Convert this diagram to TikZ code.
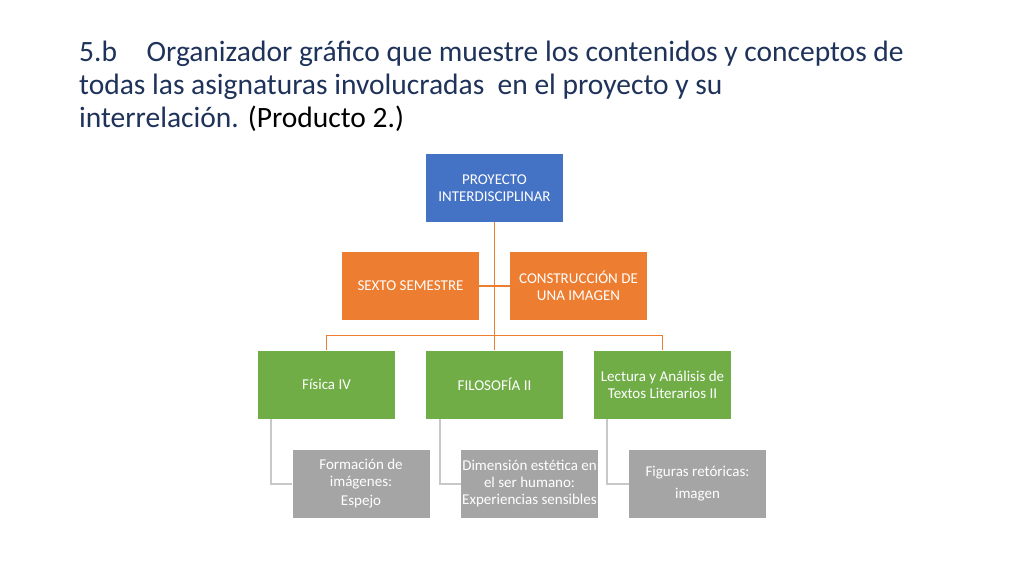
\documentclass[tikz,border=0pt]{standalone}
\usepackage{fontspec}
\setmainfont{Carlito}
\begin{document}
\begin{tikzpicture}[x=1pt,y=-1pt,
 bx/.style={minimum width=137pt,minimum height=68pt,align=center,text=white,inner sep=1pt,font=\fontsize{15}{17}\selectfont},
 blue/.style={bx,fill={rgb,255:red,68;green,114;blue,196}},
 org/.style={bx,fill={rgb,255:red,237;green,125;blue,49}},
 grn/.style={bx,fill={rgb,255:red,112;green,173;blue,71}},
 gry/.style={bx,fill={rgb,255:red,165;green,165;blue,165},font=\fontsize{15}{17}\selectfont},
 oline/.style={draw={rgb,255:red,237;green,125;blue,49},line width=1.2pt},
 gline/.style={draw={rgb,255:red,200;green,200;blue,200},line width=1.5pt}]
\useasboundingbox (0,0) rectangle (1024,576);
\fill[white] (0,0) rectangle (1024,576);
\node[anchor=west,align=left,font=\fontsize{29.5}{33}\selectfont,inner sep=0,text={rgb,255:red,30;green,50;blue,90}] (title) at (79,86)
 {5.b\quad Organizador gráfico que muestre los contenidos y conceptos de\\todas las asignaturas involucradas\ \ en el proyecto y su\\interrelación. \textcolor{black}{(Producto 2.)}};
\node[blue] (p) at (494.5,188) {PROYECTO\\INTERDISCIPLINAR};
\node[org] (s) at (410.5,286) {SEXTO SEMESTRE};
\node[org] (c) at (578.5,286) {CONSTRUCCIÓN DE\\UNA IMAGEN};
\node[grn] (f) at (326.5,384.5) {Física IV};
\node[grn] (fi) at (494.5,384.5) {FILOSOFÍA II};
\node[grn] (l) at (662.5,384.5) {Lectura y Análisis de\\Textos Literarios II};
\node[gry] (g1) at (361,484) {Formación de\\imágenes:\\[2pt]Espejo};
\node[gry] (g2) at (529.5,484) {Dimensión estética en\\el ser humano:\\Experiencias sensibles};
\node[gry] (g3) at (697.5,484) {Figuras retóricas:\\[5pt]imagen};
\path[oline] (p.south) -- (fi.north);
\path[oline] (s.east) -- (c.west);
\path[oline] (f.north) -- ++(0,-15) -| (l.north);
\path[gline] (f.south west) ++(13,0) |- (g1.west);
\path[gline] (fi.south west) ++(14,0) |- (g2.west);
\path[gline] (l.south west) ++(13,0) |- (g3.west);
\end{tikzpicture}
\end{document}
